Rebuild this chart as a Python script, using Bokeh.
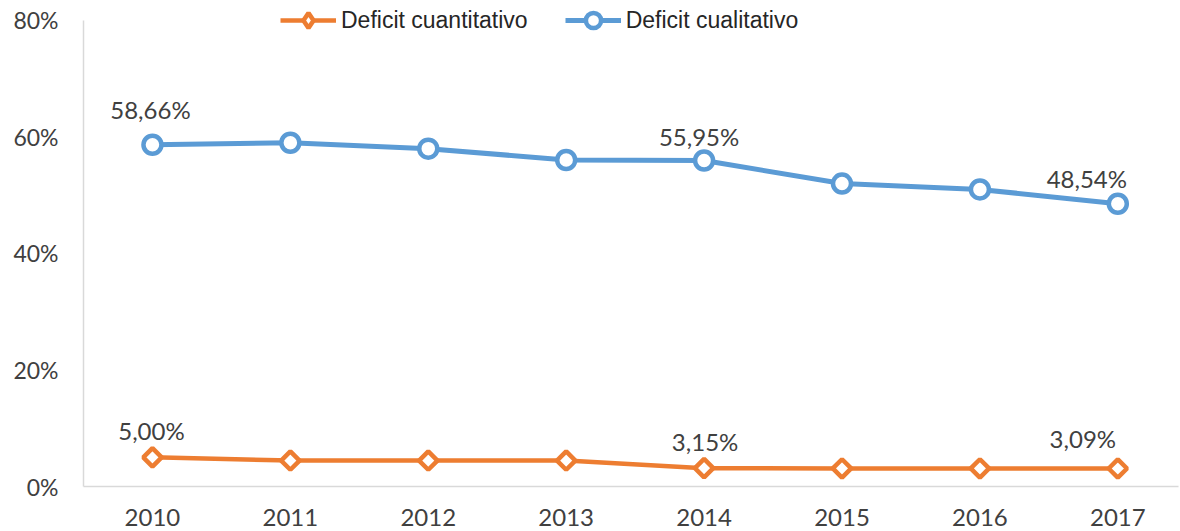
import math
from bokeh.plotting import figure
from bokeh.models import (Legend, LegendItem, FixedTicker, ColumnDataSource, Range1d)
from bokeh.core.properties import value
from bokeh.embed import file_html
from bokeh.resources import INLINE

years = [2010, 2011, 2012, 2013, 2014, 2015, 2016, 2017]
cuantitativo = [5.00, 4.45, 4.45, 4.45, 3.15, 3.10, 3.10, 3.09]
cualitativo = [58.66, 59.00, 58.00, 56.05, 55.95, 52.00, 51.00, 48.54]
label_idx = [0, 4, 7]
y_ticks = [0, 20, 40, 60, 80]
y_tick_labels = {0: "0%", 20: "20%", 40: "40%", 60: "60%", 80: "80%"}
series_names = ["Deficit cuantitativo", "Deficit cualitativo"]

ORANGE = "#ED7D31"
BLUE = "#5B9BD5"
TXT = "#404040"
NUMFONT = "Lato"

p = figure(width=1180, height=531, output_backend="svg", toolbar_location=None,
           x_range=Range1d(2009.5, 2017.44), y_range=Range1d(0, 83.43),
           min_border_left=83, min_border_right=2, min_border_top=0, min_border_bottom=45)
p.outline_line_color = None
p.grid.visible = False
p.background_fill_color = "white"

for ax in (p.xaxis[0], p.yaxis[0]):
    ax.axis_line_color = "#D9D9D9"
    ax.axis_line_width = 1.5
    ax.major_tick_line_color = None
    ax.minor_tick_line_color = None
    ax.major_tick_out = 0
    ax.major_tick_in = 0
    ax.minor_tick_out = 0
    ax.major_label_text_color = TXT
    ax.major_label_text_font = NUMFONT

p.xaxis.ticker = FixedTicker(ticks=years)
p.xaxis.major_label_overrides = {y: str(y) for y in years}
p.xaxis.major_label_text_font_size = "24px"
p.xaxis.major_label_standoff = 22

p.yaxis.ticker = FixedTicker(ticks=y_ticks)
p.yaxis.bounds = (y_ticks[0], y_ticks[-1])
p.yaxis.major_label_overrides = y_tick_labels
p.yaxis.major_label_text_font_size = "23px"
p.yaxis.major_label_standoff = 25

src_o = ColumnDataSource(dict(x=years, y=cuantitativo))
src_b = ColumnDataSource(dict(x=years, y=cualitativo))

lo = p.line("x", "y", source=src_o, line_color=ORANGE, line_width=4.5)
# diamond glyph used for the legend swatch; hidden under the rotated squares
so_leg = p.scatter("x", "y", source=src_o, marker="diamond", size=7,
                   fill_color="white", line_color=ORANGE, line_width=4.5)
so = p.scatter("x", "y", source=src_o, marker="square", size=13, angle=math.pi / 4,
               fill_color="white", line_color=ORANGE, line_width=4.5)
lb = p.line("x", "y", source=src_b, line_color=BLUE, line_width=5)
sb = p.scatter("x", "y", source=src_b, marker="circle", size=18, fill_color="white",
               line_color=BLUE, line_width=4.5)

def fmt(v):
    return ("%.2f" % v).replace(".", ",") + "%"

off_o = [(-1, -27), (1, -27), (-35, -30)]
off_b = [(-2, -35), (-5, -24), (-31, -25)]
for vals, offs in ((cuantitativo, off_o), (cualitativo, off_b)):
    src = ColumnDataSource(dict(
        x=[years[i] for i in label_idx],
        y=[vals[i] for i in label_idx],
        t=[fmt(vals[i]) for i in label_idx],
        xo=[o[0] for o in offs],
        yo=[o[1] for o in offs]))
    p.text("x", "y", text="t", source=src, x_offset="xo", y_offset="yo",
           text_align="center", text_baseline="middle",
           text_font=value(NUMFONT), text_font_size="24px", text_color=TXT)

legend = Legend(items=[LegendItem(label=series_names[0], renderers=[lo, so_leg]),
                       LegendItem(label=series_names[1], renderers=[lb, sb])],
                orientation="horizontal", location=(197, 447),
                glyph_width=56, glyph_height=38, label_standoff=5, spacing=37,
                padding=0, margin=0, border_line_color=None,
                background_fill_alpha=0,
                label_text_font="Liberation Sans", label_text_font_size="23px",
                label_text_color="#262626")
p.add_layout(legend, "center")

open("out.html", "w").write(file_html(p, INLINE))
